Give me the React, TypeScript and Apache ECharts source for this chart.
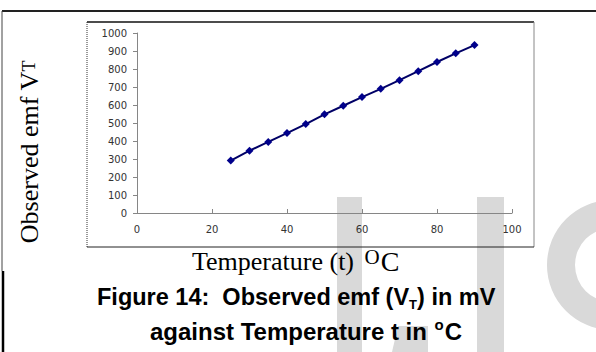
import React, { useEffect, useRef } from "react";
import * as echarts from "echarts";

const temperatures = [25, 30, 35, 40, 45, 50, 55, 60, 65, 70, 75, 80, 85, 90];
const observedEmf = [291, 346, 395, 444, 494, 548, 596, 644, 690, 738, 788, 839, 887, 933];
const xTicks = { min: 0, max: 100, interval: 20 };
const yTicks = { min: 0, max: 1000, interval: 100 };
const yTitle = ["Observed emf V", "T"];
const xTitle = ["Temperature (t) ", "O", "C"];
const captionLine1 = ["Figure 14:  Observed emf (V", "T", ") in mV"];
const captionLine2 = ["against Temperature t in ", "o", "C"];

const WM = "#d9d9d9";

export default function App() {
  const ref = useRef<HTMLDivElement>(null);
  useEffect(() => {
    if (!ref.current) return;
    const chart = echarts.init(ref.current, null, { renderer: "svg" });
    const serif = "'Liberation Serif', 'Times New Roman', serif";
    const sans = "'Liberation Sans', Arial, sans-serif";
    const tickFont = "'DejaVu Sans', Verdana, sans-serif";
    chart.setOption({
      animation: false,
      backgroundColor: "#ffffff",
      grid: { left: 137, top: 33, right: 84, bottom: 139, containLabel: false },
      xAxis: {
        type: "value",
        min: xTicks.min,
        max: xTicks.max,
        interval: xTicks.interval,
        axisLine: { show: true, lineStyle: { color: "#868686", width: 1 } },
        axisTick: { show: true, inside: true, length: 4, lineStyle: { color: "#868686" } },
        splitLine: { show: false },
        axisLabel: { margin: 11, fontSize: 10, fontFamily: tickFont, color: "#333333", formatter: (v: number) => String(v) },
      },
      yAxis: {
        type: "value",
        min: yTicks.min,
        max: yTicks.max,
        interval: yTicks.interval,
        axisLine: { show: true, lineStyle: { color: "#868686", width: 1 } },
        axisTick: { show: true, inside: false, length: 4, lineStyle: { color: "#868686" } },
        splitLine: { show: false },
        axisLabel: { margin: 10, fontSize: 10, fontFamily: tickFont, color: "#333333", formatter: (v: number) => String(v) },
      },
      series: [
        {
          type: "line",
          z: 5,
          data: temperatures.map((t, i) => [t, observedEmf[i]]),
          symbol: "diamond",
          symbolSize: 8,
          lineStyle: { color: "#000066", width: 2 },
          itemStyle: { color: "#00008b" },
        },
      ],
      graphic: [
        // watermark
        { type: "rect", z: -10, shape: { x: 337, y: 197, width: 25, height: 160 }, style: { fill: WM } },
        { type: "rect", z: -10, shape: { x: 477, y: 197, width: 27, height: 160 }, style: { fill: WM } },
        { type: "polygon", z: -10, shape: { points: [[398, 326], [428, 326], [428, 352], [392, 352]] }, style: { fill: WM } },
        {
          type: "sector",
          z: -10,
          shape: { cx: 612, cy: 265, r0: 37, r: 65, startAngle: Math.PI / 2, endAngle: (3 * Math.PI) / 2, clockwise: true },
          style: { fill: WM },
        },
        // outer frame
        { type: "line", shape: { x1: 2, y1: 11, x2: 596, y2: 11 }, style: { stroke: "#222", lineWidth: 2 } },
        { type: "line", shape: { x1: 2, y1: 11, x2: 2, y2: 271 }, style: { stroke: "#444", lineWidth: 1 } },
        { type: "line", shape: { x1: 3, y1: 271, x2: 3, y2: 352 }, style: { stroke: "#000", lineWidth: 2.5 } },
        // chart box
        { type: "line", shape: { x1: 87, y1: 22, x2: 534, y2: 22 }, style: { stroke: "#111", lineWidth: 1.5 } },
        { type: "line", shape: { x1: 87, y1: 22, x2: 87, y2: 247 }, style: { stroke: "#333", lineWidth: 1, lineDash: [1, 1] } },
        { type: "line", shape: { x1: 534, y1: 22, x2: 534, y2: 247 }, style: { stroke: "#888", lineWidth: 1 } },
        { type: "line", shape: { x1: 87, y1: 247, x2: 534, y2: 247 }, style: { stroke: "#222", lineWidth: 1 } },
        // y title
        {
          type: "text",
          x: 29,
          y: 152,
          rotation: Math.PI / 2,
          style: {
            text: `{a|${yTitle[0]}}{b|${yTitle[1]}}`,
            align: "center",
            verticalAlign: "middle",
            fill: "#000",
            rich: {
              a: { fontSize: 26, fontFamily: serif, lineHeight: 30, fill: "#000" },
              b: { fontSize: 18, fontFamily: serif, fill: "#000" },
            },
          },
        },
        // x title
        {
          type: "text",
          x: 192,
          y: 261,
          style: {
            text: `{a|${xTitle[0]}}{s|${xTitle[1]}}{c|${xTitle[2]}}`,
            align: "left",
            verticalAlign: "middle",
            fill: "#000",
            rich: {
              a: { fontSize: 26, fontFamily: serif, lineHeight: 30, fill: "#000" },
              s: { fontSize: 21, fontFamily: serif, lineHeight: 12, verticalAlign: "top", padding: [0, 1, 0, 4], fill: "#000" },
              c: { fontSize: 28, fontFamily: serif, lineHeight: 30, fill: "#000" },
            },
          },
        },
        // caption
        {
          type: "text",
          x: 97,
          y: 297,
          style: {
            text: `{a|${captionLine1[0]}}{s|${captionLine1[1]}}{a|${captionLine1[2]}}`,
            align: "left",
            verticalAlign: "middle",
            fill: "#000",
            rich: {
              a: { fontSize: 23.5, fontWeight: "bold", fontFamily: sans, lineHeight: 28, fill: "#000" },
              s: { fontSize: 13, fontWeight: "bold", fontFamily: sans, lineHeight: 20, verticalAlign: "bottom", fill: "#000" },
            },
          },
        },
        {
          type: "text",
          x: 150,
          y: 331,
          style: {
            text: `{a|${captionLine2[0]}}{s|${captionLine2[1]}}{a|${captionLine2[2]}}`,
            align: "left",
            verticalAlign: "middle",
            fill: "#000",
            rich: {
              a: { fontSize: 24, fontWeight: "bold", fontFamily: sans, lineHeight: 28, fill: "#000" },
              s: { fontSize: 15, fontWeight: "bold", fontFamily: sans, lineHeight: 14, verticalAlign: "top", padding: [0, 1, 0, 1], fill: "#000" },
            },
          },
        },
      ],
    });
    return () => chart.dispose();
  }, []);
  return <div ref={ref} style={{ width: 596, height: 352, position: "absolute", left: 0, top: 0 }} />;
}
